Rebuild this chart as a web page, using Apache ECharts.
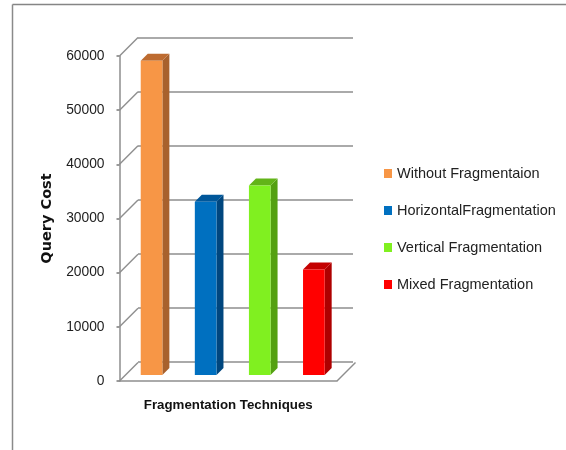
<!DOCTYPE html>
<html>
<head>
<meta charset="utf-8">
<script src="https://cdn.jsdelivr.net/npm/echarts@6/dist/echarts.min.js"></script>
<style>
  html, body { margin: 0; padding: 0; background: #ffffff; }
  #chart { width: 566px; height: 450px; }
</style>
</head>
<body>
<div id="chart"></div>
<script>
// Query cost per fragmentation technique
const categories = ['Without Fragmentaion', 'HorizontalFragmentation', 'Vertical Fragmentation', 'Mixed Fragmentation'];
const queryCost = [58000, 32000, 35000, 19500];
const yTicks = [0, 10000, 20000, 30000, 40000, 50000, 60000];

// front / side / top shades of each box
const frontColors = ['#F79646', '#0070C0', '#80F020', '#FF0000'];
const sideColors  = ['#A8612D', '#00467E', '#54A012', '#AE0000'];
const topColors   = ['#BD6B30', '#00579A', '#62B418', '#C40000'];

const GRID_LINE = '#8E8E8E';
const LABEL_FONT = "'Liberation Sans', Arial, sans-serif";
const WALL_DX = 18.5;   // depth of the chart floor/wall
const WALL_DY = -18.5;
const BOX_D = 7;        // depth of each box

const chart = echarts.init(document.getElementById('chart'), null, { renderer: 'canvas' });

function boxRenderer(idx) {
  return function (params, api) {
    const top = api.coord([api.value(0), api.value(1)]);
    const base = api.coord([api.value(0), 0]);
    const bw = api.size([1, 0])[0] * 0.4;
    const x0 = top[0] - bw / 2, x1 = top[0] + bw / 2;
    const yt = top[1], yb = base[1];
    return {
      type: 'group',
      children: [
        { type: 'polygon', shape: { points: [[x1, yt], [x1 + BOX_D, yt - BOX_D], [x1 + BOX_D, yb - BOX_D], [x1, yb]] },
          style: { fill: sideColors[idx] } },
        { type: 'polygon', shape: { points: [[x0, yt], [x0 + BOX_D, yt - BOX_D], [x1 + BOX_D, yt - BOX_D], [x1, yt]] },
          style: { fill: topColors[idx] } },
        { type: 'rect', shape: { x: x0, y: yt, width: bw, height: yb - yt },
          style: { fill: frontColors[idx] } }
      ]
    };
  };
}

// side wall and floor edges, drawn from the front axis ticks
function wallRenderer(params, api) {
  const v = api.value(0);
  const p = api.coord([0, v]);
  const half = api.size([1, 0])[0] / 2;
  const xl = p[0] - half;
  const children = [{
    type: 'line',
    shape: { x1: xl, y1: p[1], x2: xl + WALL_DX, y2: p[1] + WALL_DY },
    style: { stroke: GRID_LINE, lineWidth: 1.5 }
  }];
  if (v === 0) {
    const pr = api.coord([categories.length - 1, 0]);
    const xr = pr[0] + half;
    children.push({
      type: 'line',
      shape: { x1: xr, y1: pr[1], x2: xr + WALL_DX, y2: pr[1] + WALL_DY },
      style: { stroke: GRID_LINE, lineWidth: 1.5 }
    });
  }
  return { type: 'group', children: children };
}

const boxSeries = categories.map((name, i) => ({
  name: name,
  type: 'custom',
  xAxisIndex: 2,
  yAxisIndex: 2,
  itemStyle: { color: frontColors[i] },
  renderItem: boxRenderer(i),
  data: [[i, queryCost[i]]],
  z: 5
}));

chart.setOption({
  animation: false,
  backgroundColor: '#ffffff',
  graphic: [
    { type: 'line', shape: { x1: 12.5, y1: 4.5, x2: 566, y2: 4.5 }, style: { stroke: '#858585', lineWidth: 1.5 } },
    { type: 'line', shape: { x1: 12.5, y1: 4.5, x2: 12.5, y2: 450 }, style: { stroke: '#8A8A8A', lineWidth: 1.5 } }
  ],
  legend: {
    orient: 'vertical',
    left: 384,
    top: 165,
    padding: 0,
    icon: 'rect',
    itemWidth: 8,
    itemHeight: 9,
    itemGap: 20,
    selectedMode: false,
    data: categories,
    textStyle: { fontFamily: LABEL_FONT, fontSize: 14.5, color: '#222222', lineHeight: 17 }
  },
  grid: [
    { left: 138, top: 37.5, width: 215, height: 324.5 },   // back wall
    { left: 119.5, top: 56, width: 217.5, height: 325 },   // front edge
    { left: 124.5, top: 50, width: 216.4, height: 325 }    // box plane
  ],
  xAxis: [
    { gridIndex: 0, type: 'category', data: categories, show: false },
    {
      gridIndex: 1, type: 'category', data: categories,
      axisLine: { show: true, lineStyle: { color: GRID_LINE, width: 1.5 } },
      axisTick: { show: false }, axisLabel: { show: false }, splitLine: { show: false },
      name: 'Fragmentation Techniques', nameLocation: 'middle', nameGap: 18,
      nameTextStyle: { fontFamily: LABEL_FONT, fontWeight: 'bold', fontSize: 13.3, color: '#111111' }
    },
    { gridIndex: 2, type: 'category', data: categories, show: false }
  ],
  yAxis: [
    {
      gridIndex: 0, type: 'value', min: 0, max: 60000, interval: 10000,
      axisLine: { show: false }, axisTick: { show: false }, axisLabel: { show: false },
      splitLine: { show: true, lineStyle: { color: GRID_LINE, width: 1.5 } }
    },
    {
      gridIndex: 1, type: 'value', min: 0, max: 60000, interval: 10000,
      axisLine: { show: true, lineStyle: { color: GRID_LINE, width: 1.5 } },
      axisTick: { show: true, length: 3, lineStyle: { color: '#7A7A7A', width: 1.5 } },
      axisLabel: { margin: 15, fontFamily: LABEL_FONT, fontSize: 13.8, color: '#1E1E1E', formatter: v => String(v) },
      splitLine: { show: false },
      name: 'Query Cost', nameLocation: 'middle', nameGap: 65, nameRotate: 90,
      nameTextStyle: { fontFamily: "'DejaVu Sans', Verdana, sans-serif", fontWeight: 'bold', fontSize: 14.5, color: '#111111' }
    },
    { gridIndex: 2, type: 'value', min: 0, max: 60000, interval: 10000, show: false }
  ],
  series: [
    {
      name: 'wall',
      type: 'custom',
      xAxisIndex: 1,
      yAxisIndex: 1,
      renderItem: wallRenderer,
      data: yTicks.map(v => [v]),
      encode: { y: 0 },
      silent: true,
      z: 1
    }
  ].concat(boxSeries)
});
</script>
</body>
</html>
